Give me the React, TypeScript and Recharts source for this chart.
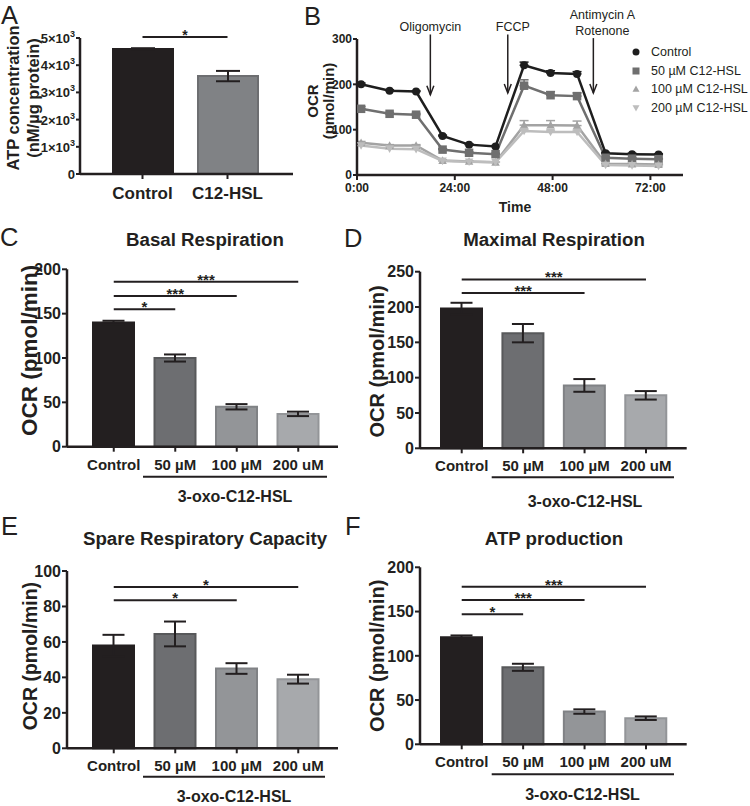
import React from 'react';
import { BarChart, Bar, Cell, XAxis, YAxis, ErrorBar, ReferenceLine, LineChart, Line, Legend } from 'recharts';

const FONT = '"Liberation Sans", Arial, Helvetica, sans-serif';
const LETTER_FONT = '"Liberation Sans", Arial, sans-serif';
const INK = '#231f20';

// ---------- Panel A ----------
const atpGroups = ['Control', 'C12-HSL'];
const atpValues = [4600, 3600];
const atpErrors = [25, 190];
const atpTicks = [0, 1000, 2000, 3000, 4000, 5000];
const atpFills = ['#231f20', '#808285'];
const atpBorders = ['#231f20', '#6d6e71'];
const atpSig = [{ to: 'C12-HSL', y: 5040, label: '*' }];

// ---------- Panel B ----------
const timePoints = [1, 8, 14.5, 21, 27.5, 34, 41, 47.5, 54, 61, 67.5, 74];
const ocrControl = [200, 186, 184, 86, 67, 63, 242, 225, 223, 48, 46, 45];
const ocr50 = [146, 135, 133, 56, 49, 46, 197, 176, 174, 38, 36, 35];
const ocr100 = [71, 65, 65, 32, 30, 28, 110, 110, 109, 25, 24, 23];
const ocr200 = [65, 58, 57, 31, 29, 28, 97, 95, 95, 22, 21, 20];
const errControl = [3, 2, 2, 2, 2, 2, 7, 5, 5, 2, 2, 2];
const err50 = [5, 3, 3, 2, 2, 2, 13, 8, 7, 2, 2, 2];
const err100 = [3, 2, 2, 1, 1, 1, 10, 10, 10, 1, 1, 1];
const err200 = [2, 2, 2, 1, 1, 1, 4, 4, 4, 1, 1, 1];
const timeTicks = [0, 24, 48, 72];
const ocrTicks = [0, 100, 200, 300];
const seriesNames = ['Control', '50 µM C12-HSL', '100 µM C12-HSL', '200 µM C12-HSL'];
const seriesKeys = ['control', 'm50', 'm100', 'm200'];
const seriesColors = ['#1e1e1e', '#6f6f6f', '#a3a3a3', '#bdbdbd'];
const seriesShapes = ['circle', 'square', 'triangle', 'triangleDown'];
const injectionLabels = [['Oligomycin'], ['FCCP'], ['Antimycin A', 'Rotenone']];
const injectionTimes = [18, 37, 58];
const injectionTop = [310, 310, 302];
const injectionBottom = [177, 181, 181];

// ---------- Panels C-F ----------
const doseGroups = ['Control', '50 µM', '100 µM', '200 uM'];
const doseFills = ['#231f20', '#6d6e71', '#939598', '#a7a9ac'];
const doseBorders = ['#231f20', '#58595b', '#808285', '#939598'];

const basalValues = [140, 100, 45, 37];
const basalErrors = [2, 4, 3, 2.5];
const basalTicks = [0, 50, 100, 150, 200];
const basalSig = [
  { to: '200 uM', y: 186, label: '***' },
  { to: '100 µM', y: 170, label: '***' },
  { to: '50 µM', y: 155, label: '*' },
];

const maximalValues = [198, 163, 89, 75];
const maximalErrors = [8, 13, 9, 6];
const maximalTicks = [0, 50, 100, 150, 200, 250];
const maximalSig = [
  { to: '200 uM', y: 239, label: '***' },
  { to: '100 µM', y: 220, label: '***' },
];

const spareValues = [58, 64.5, 45, 39];
const spareErrors = [6, 7, 3, 2.5];
const spareTicks = [0, 20, 40, 60, 80, 100];
const spareSig = [
  { to: '200 uM', y: 91, label: '*' },
  { to: '100 µM', y: 83.5, label: '*' },
];

const atpProdValues = [121, 87, 37, 29.5];
const atpProdErrors = [2, 4, 2.5, 2];
const atpProdTicks = [0, 50, 100, 150, 200];
const atpProdSig = [
  { to: '200 uM', y: 178, label: '***' },
  { to: '100 µM', y: 163, label: '***' },
  { to: '50 µM', y: 147, label: '*' },
];

// ---------- helpers ----------
function Marker({ shape, cx, cy, size, color }: any) {
  const h = size / 2;
  if (shape === 'circle') return <circle cx={cx} cy={cy} r={h} fill={color} />;
  if (shape === 'square') return <rect x={cx - h} y={cy - h} width={size} height={size} fill={color} />;
  if (shape === 'triangle')
    return <polygon points={`${cx},${cy - h} ${cx + h},${cy + h * 0.8} ${cx - h},${cy + h * 0.8}`} fill={color} />;
  return <polygon points={`${cx},${cy + h} ${cx + h},${cy - h * 0.8} ${cx - h},${cy - h * 0.8}`} fill={color} />;
}

const sigShape = (label: string, fontSize = 15) => (props: any) => {
  const { x1, y1, x2, y2 } = props;
  return (
    <g>
      <line x1={x1} y1={y1} x2={x2} y2={y2} stroke={INK} strokeWidth={2} />
      <text
        x={(x1 + x2) / 2}
        y={y1 + 3}
        textAnchor="middle"
        fontFamily={FONT}
        fontWeight={700}
        fontSize={fontSize}
        fill={INK}
      >
        {label}
      </text>
    </g>
  );
};

const makeXTick = (fontSize: number, dy: number) => (p: any) => (
  <text x={p.x} y={p.y + dy} textAnchor="middle" fontFamily={FONT} fontWeight={700} fontSize={fontSize} fill={INK}>
    {p.payload.value}
  </text>
);

const makeYTick = (fontSize: number) => (p: any) => (
  <text x={p.x} y={p.y + fontSize * 0.36} textAnchor="end" fontFamily={FONT} fontWeight={700} fontSize={fontSize} fill={INK}>
    {p.payload.value}
  </text>
);

const makeYLabel = (lines: string[], xs: number[], fontSize: number, shift: number) => (p: any) => {
  const vb = p.viewBox || {};
  const cy = vb.y + vb.height / 2 + shift;
  return (
    <g>
      {lines.map((ln, i) => (
        <text
          key={ln}
          x={xs[i]}
          y={cy}
          transform={`rotate(-90 ${xs[i]} ${cy})`}
          textAnchor="middle"
          dominantBaseline="central"
          fontFamily={FONT}
          fontWeight={700}
          fontSize={fontSize}
          fill={INK}
        >
          {ln}
        </text>
      ))}
    </g>
  );
};

const axisLineStyle = { stroke: INK, strokeWidth: 2.5 };
const tickLineStyle = { stroke: INK, strokeWidth: 2 };

// ---------- Panel A ----------
function PanelA() {
  const table = atpGroups.map((g, i) => ({ group: g, value: atpValues[i], err: atpErrors[i] }));
  const yTick = (p: any) => {
    const v = p.payload.value;
    return (
      <text x={p.x} y={p.y + 5} textAnchor="end" fontFamily={FONT} fontWeight={700} fontSize={13} fill={INK}>
        {v === 0 ? '0' : `${v / 1000}×10`}
        {v === 0 ? null : (
          <tspan dy={-6} fontSize={9}>
            3
          </tspan>
        )}
      </text>
    );
  };
  return (
    <div style={{ position: 'absolute', left: 0, top: 0 }}>
      <BarChart width={300} height={215} data={table} margin={{ top: 38, right: 7, bottom: 0, left: 0 }}>
        <XAxis
          dataKey="group"
          type="category"
          padding={{ left: 20, right: 23 }}
          height={41}
          tickSize={5}
          tickMargin={2}
          interval={0}
          axisLine={axisLineStyle}
          tickLine={tickLineStyle}
          tick={makeXTick(17, 18)}
        />
        <YAxis
          type="number"
          domain={[0, 5000]}
          ticks={atpTicks}
          interval={0}
          width={80}
          tickSize={4}
          tickMargin={1}
          axisLine={axisLineStyle}
          tickLine={tickLineStyle}
          tick={yTick}
          label={makeYLabel(['ATP concentration', '(nM/µg protein)'], [13, 33], 16.5, -8)}
        />
        <Bar dataKey="value" barSize={60} isAnimationActive={false} strokeWidth={2}>
          {table.map((d, i) => (
            <Cell key={d.group} fill={atpFills[i]} stroke={atpBorders[i]} />
          ))}
          <ErrorBar dataKey="err" width={12} strokeWidth={2} stroke={INK} direction="y" />
        </Bar>
        {atpSig.map((s) => (
          <ReferenceLine
            key={s.to}
            segment={[{ x: 'Control', y: s.y }, { x: s.to, y: s.y }]}
            ifOverflow="visible"
            shape={sigShape(s.label, 14)}
          />
        ))}
      </BarChart>
    </div>
  );
}

// ---------- Panel B ----------
function PanelB() {
  const table = timePoints.map((t, i) => ({
    t,
    control: ocrControl[i],
    m50: ocr50[i],
    m100: ocr100[i],
    m200: ocr200[i],
    e_control: [0, errControl[i]],
    e_m50: [0, err50[i]],
    e_m100: [0, err100[i]],
    e_m200: [0, err200[i]],
  }));
  const labelShift = [0, 5, 9];
  const renderLegend = (props: any) => {
    const payload = [...(props.payload || [])].sort(
      (a: any, b: any) => seriesNames.indexOf(a.value) - seriesNames.indexOf(b.value)
    );
    return (
      <div style={{ fontFamily: FONT, fontSize: 12.5, color: INK }}>
        {payload.map((item: any) => {
          const idx = seriesNames.indexOf(item.value);
          return (
            <div key={item.value} style={{ display: 'flex', alignItems: 'center', height: 18.5, whiteSpace: 'nowrap' }}>
              <svg width={20} height={18} style={{ display: 'block' }}>
                <Marker shape={seriesShapes[idx]} cx={10} cy={9} size={7} color={seriesColors[idx]} />
              </svg>
              <span style={{ marginLeft: 5 }}>{item.value}</span>
            </div>
          );
        })}
      </div>
    );
  };
  const injectionShape = (i: number) => (props: any) => {
    const { x1, y1, x2, y2 } = props;
    const lines = injectionLabels[i];
    return (
      <g>
        <line x1={x1} y1={y1} x2={x2} y2={y2} stroke={INK} strokeWidth={1.5} />
        <polyline
          points={`${x2 - 3.5},${y2 - 9} ${x2},${y2} ${x2 + 3.5},${y2 - 9}`}
          fill="none"
          stroke={INK}
          strokeWidth={1.5}
        />
        {lines.map((ln, k) => (
          <text
            key={ln}
            x={x1 + labelShift[i]}
            y={y1 - 3 - (lines.length - 1 - k) * 16}
            textAnchor="middle"
            fontFamily={FONT}
            fontSize={12.5}
            fill={INK}
          >
            {ln}
          </text>
        ))}
      </g>
    );
  };
  const xTick = (p: any) => (
    <text x={p.x} y={p.y + 10} textAnchor="middle" fontFamily={FONT} fontWeight={700} fontSize={12} fill={INK}>
      {`${p.payload.value}:00`}
    </text>
  );
  const timeLabel = (p: any) => {
    const vb = p.viewBox || {};
    return (
      <text
        x={vb.x + vb.width / 2 - 5}
        y={vb.y + 37}
        textAnchor="middle"
        fontFamily={FONT}
        fontWeight={700}
        fontSize={14}
        fill={INK}
      >
        Time
      </text>
    );
  };
  return (
    <div style={{ position: 'absolute', left: 280, top: 0 }}>
      <LineChart width={470} height={225} data={table} margin={{ top: 39, right: 67, bottom: 0, left: 0 }}>
        <XAxis
          dataKey="t"
          type="number"
          domain={[0, 80]}
          ticks={timeTicks}
          interval={0}
          height={50}
          tickSize={5}
          tickMargin={2}
          axisLine={axisLineStyle}
          tickLine={tickLineStyle}
          tick={xTick}
          label={timeLabel}
          allowDataOverflow
        />
        <YAxis
          type="number"
          domain={[0, 300]}
          ticks={ocrTicks}
          interval={0}
          width={77}
          tickSize={4}
          tickMargin={1}
          axisLine={axisLineStyle}
          tickLine={tickLineStyle}
          tick={makeYTick(12)}
          label={makeYLabel(['OCR', '(pmol/min)'], [32, 48], 15, -6)}
        />
        {seriesKeys.map((k, i) => (
          <Line
            key={k}
            dataKey={k}
            name={seriesNames[i]}
            stroke={seriesColors[i]}
            strokeWidth={2.5}
            isAnimationActive={false}
            dot={(p: any) => (
              <Marker
                key={`${k}-${p.index}`}
                shape={seriesShapes[i]}
                cx={p.cx}
                cy={p.cy}
                size={i === 0 ? 8 : 8.5}
                color={seriesColors[i]}
              />
            )}
            activeDot={false}
          >
            <ErrorBar dataKey={`e_${k}`} width={4.5} strokeWidth={1.5} stroke={seriesColors[i]} direction="y" />
          </Line>
        ))}
        {injectionTimes.map((t, i) => (
          <ReferenceLine
            key={`inj-${i}`}
            segment={[{ x: t, y: injectionTop[i] }, { x: t, y: injectionBottom[i] }]}
            ifOverflow="visible"
            shape={injectionShape(i)}
          />
        ))}
        <Legend
          content={renderLegend}
          layout="horizontal"
          align="center"
          verticalAlign="middle"
          wrapperStyle={{ left: 346, top: 43, width: 130, height: 76 }}
        />
      </LineChart>
    </div>
  );
}

// ---------- Panels C-F ----------
function BarPanel({ cfg }: any) {
  const table = doseGroups.map((g, i) => ({ group: g, value: cfg.values[i], err: cfg.errors[i] }));
  return (
    <div style={{ position: 'absolute', left: cfg.left, top: cfg.top }}>
      <BarChart width={cfg.width} height={cfg.height} data={table} margin={cfg.margin}>
        <XAxis
          dataKey="group"
          type="category"
          padding={cfg.padding}
          height={cfg.xAxisHeight}
          tickSize={5}
          tickMargin={2}
          interval={0}
          axisLine={axisLineStyle}
          tickLine={tickLineStyle}
          tick={makeXTick(15, 16)}
        />
        <YAxis
          type="number"
          domain={[0, cfg.yMax]}
          ticks={cfg.ticks}
          interval={0}
          width={cfg.yAxisWidth}
          tickSize={5}
          tickMargin={1}
          axisLine={axisLineStyle}
          tickLine={tickLineStyle}
          tick={makeYTick(16)}
          label={makeYLabel(['OCR (pmol/min)'], [cfg.yLabelX], cfg.yLabelSize, cfg.yLabelShift)}
        />
        <Bar dataKey="value" barSize={41} isAnimationActive={false} strokeWidth={2}>
          {table.map((d, i) => (
            <Cell key={d.group} fill={doseFills[i]} stroke={doseBorders[i]} />
          ))}
          <ErrorBar dataKey="err" width={11} strokeWidth={2} stroke={INK} direction="y" />
        </Bar>
        {cfg.sig.map((s: any) => (
          <ReferenceLine
            key={s.to}
            segment={[{ x: 'Control', y: s.y }, { x: s.to, y: s.y }]}
            ifOverflow="visible"
            shape={sigShape(s.label)}
          />
        ))}
      </BarChart>
    </div>
  );
}

export default function App() {
  const panelC = {
    values: basalValues, errors: basalErrors, yMax: 200, ticks: basalTicks, sig: basalSig,
    left: 0, top: 260, width: 345, height: 230,
    margin: { top: 9.3, right: 7, bottom: 0, left: 0 }, yAxisWidth: 67, xAxisHeight: 43.3,
    padding: { left: 16, right: 9 }, yLabelX: 29.5, yLabelSize: 22.5, yLabelShift: -7.5,
  };
  const panelD = {
    values: maximalValues, errors: maximalErrors, yMax: 250, ticks: maximalTicks, sig: maximalSig,
    left: 345, top: 260, width: 350, height: 230,
    margin: { top: 11.7, right: 8.3, bottom: 0, left: 0 }, yAxisWidth: 75, xAxisHeight: 41.7,
    padding: { left: 11, right: 10 }, yLabelX: 32, yLabelSize: 20, yLabelShift: 1.5,
  };
  const panelE = {
    values: spareValues, errors: spareErrors, yMax: 100, ticks: spareTicks, sig: spareSig,
    left: 0, top: 560, width: 345, height: 220,
    margin: { top: 11, right: 7, bottom: 0, left: 0 }, yAxisWidth: 67, xAxisHeight: 31.7,
    padding: { left: 16, right: 9 }, yLabelX: 30, yLabelSize: 19.5, yLabelShift: -3.5,
  };
  const panelF = {
    values: atpProdValues, errors: atpProdErrors, yMax: 200, ticks: atpProdTicks, sig: atpProdSig,
    left: 345, top: 555, width: 350, height: 220,
    margin: { top: 12.3, right: 8.3, bottom: 0, left: 0 }, yAxisWidth: 75, xAxisHeight: 30.7,
    padding: { left: 11, right: 10 }, yLabelX: 32, yLabelSize: 20, yLabelShift: 0,
  };

  const letters = [
    { t: 'A', x: 1, y: 24 },
    { t: 'B', x: 304, y: 25 },
    { t: 'C', x: 0, y: 246 },
    { t: 'D', x: 344, y: 247 },
    { t: 'E', x: 1, y: 535 },
    { t: 'F', x: 345, y: 535 },
  ];
  const titles = [
    { t: 'Basal Respiration', x: 205, y: 246 },
    { t: 'Maximal Respiration', x: 554, y: 246 },
    { t: 'Spare Respiratory Capacity', x: 205, y: 545 },
    { t: 'ATP production', x: 554, y: 545 },
  ];
  const brackets = [
    { x1: 143, x2: 327, y: 476.7, tx: 235, ty: 501.7 },
    { x1: 491.7, x2: 674, y: 477.3, tx: 585, ty: 507 },
    { x1: 143, x2: 325, y: 776.7, tx: 234, ty: 802.3 },
    { x1: 491.7, x2: 674, y: 774.3, tx: 582.5, ty: 800 },
  ];

  return (
    <div style={{ position: 'absolute', left: 0, top: 0, width: 750, height: 806, background: '#fff', overflow: 'hidden' }}>
      <PanelA />
      <PanelB />
      <BarPanel cfg={panelC} />
      <BarPanel cfg={panelD} />
      <BarPanel cfg={panelE} />
      <BarPanel cfg={panelF} />
      <svg width={750} height={806} style={{ position: 'absolute', left: 0, top: 0, pointerEvents: 'none' }}>
        {letters.map((l) => (
          <text key={l.t} x={l.x} y={l.y} fontFamily={LETTER_FONT} fontWeight={400} fontSize={25.5} fill={INK}>
            {l.t}
          </text>
        ))}
        {titles.map((t) => (
          <text key={t.t} x={t.x} y={t.y} textAnchor="middle" fontFamily={FONT} fontWeight={700} fontSize={18.7} fill={INK}>
            {t.t}
          </text>
        ))}
        {brackets.map((b, i) => (
          <g key={i}>
            <line x1={b.x1} x2={b.x2} y1={b.y} y2={b.y} stroke={INK} strokeWidth={2} />
            <text x={b.tx} y={b.ty} textAnchor="middle" fontFamily={FONT} fontWeight={700} fontSize={16} fill={INK}>
              3-oxo-C12-HSL
            </text>
          </g>
        ))}
      </svg>
    </div>
  );
}
